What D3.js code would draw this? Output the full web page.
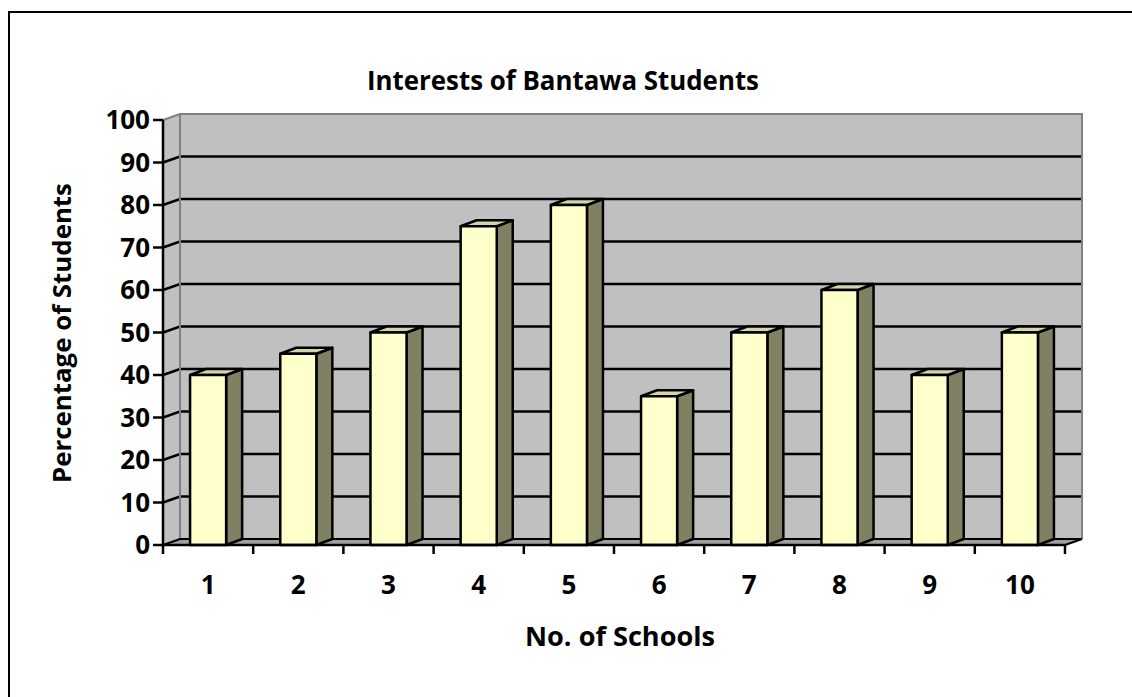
<!DOCTYPE html>
<html>
<head>
<meta charset="utf-8">
<script src="https://cdn.jsdelivr.net/npm/d3@7"></script>
<style>
  html, body { margin: 0; padding: 0; background: #fff; }
  svg { display: block; }
  text { font-family: "Open Sans", Lato, sans-serif; font-weight: bold; fill: #000; }
</style>
</head>
<body>
<svg id="chart" width="1132" height="697"></svg>
<script>
// School numbers and the share of interested students at each
const categories = ["1", "2", "3", "4", "5", "6", "7", "8", "9", "10"];
const values = [40, 45, 50, 75, 80, 35, 50, 60, 40, 50];
const yTicks = [0, 10, 20, 30, 40, 50, 60, 70, 80, 90, 100];

const titleText = "Interests of Bantawa Students";
const xTitle = "No. of Schools";
const yTitle = "Percentage of Students";

const svg = d3.select("#chart");

// Plot frame (front plane) and 3D depth offsets
const plotL = 163, plotR = 1065, plotT = 120, plotB = 545;
const wallDx = 17, wallDy = -6;   // back wall offset
const barDx = 16, barDy = -6;     // column depth

const x = d3.scaleBand().domain(categories).range([plotL, plotR])
  .paddingInner(0.6).paddingOuter(0.3);
const y = d3.scaleLinear().domain([0, 100]).range([plotB, plotT]);

// Shrink or grow a label's font so it spans the given width
function fitWidth(sel, width) {
  const node = sel.node();
  const fs = parseFloat(sel.attr("font-size"));
  const w = node.getComputedTextLength();
  if (w > 0) sel.attr("font-size", (fs * width / w).toFixed(2));
  return sel;
}

// Outer chart border
svg.append("rect").attr("x", 9).attr("y", 12).attr("width", 1140).attr("height", 700)
  .attr("fill", "#fff").attr("stroke", "#000").attr("stroke-width", 2);

const line = d3.line();

// Back wall
svg.append("path")
  .attr("d", line([[plotL + wallDx, y(100) + wallDy], [plotR + wallDx, y(100) + wallDy],
                   [plotR + wallDx, y(0) + wallDy], [plotL + wallDx, y(0) + wallDy]]) + "Z")
  .attr("fill", "#c0c0c0");
// Side wall
svg.append("path")
  .attr("d", line([[plotL, y(0)], [plotL, y(100)], [plotL + wallDx, y(100) + wallDy],
                   [plotL + wallDx, y(0) + wallDy]]) + "Z")
  .attr("fill", "#c0c0c0");
// Floor
svg.append("path")
  .attr("d", line([[plotL, y(0)], [plotR, y(0)], [plotR + wallDx, y(0) + wallDy],
                   [plotL + wallDx, y(0) + wallDy]]) + "Z")
  .attr("fill", "#a0a0a0");

// Gridlines across back and side walls
const grid = svg.append("g").attr("stroke", "#000").attr("stroke-width", 2.5).attr("fill", "none");
yTicks.filter(t => t > 0 && t < 100).forEach(t => {
  grid.append("path").attr("d", line([[plotL, y(t)], [plotL + wallDx, y(t) + wallDy],
                                      [plotR + wallDx, y(t) + wallDy]]));
});

// Wall edges
const edges = svg.append("g").attr("stroke", "#808080").attr("stroke-width", 2).attr("fill", "none");
edges.append("path").attr("d", line([[plotL, y(100)], [plotL + wallDx, y(100) + wallDy],
                                     [plotR + wallDx, y(100) + wallDy], [plotR + wallDx, y(0) + wallDy]]));
edges.append("path").attr("d", line([[plotL + wallDx, y(100) + wallDy], [plotL + wallDx, y(0) + wallDy]]));
svg.append("path").attr("d", line([[plotL, y(0)], [plotL + wallDx, y(0) + wallDy],
                                   [plotR + wallDx, y(0) + wallDy], [plotR, y(0)]]))
  .attr("stroke", "#000").attr("stroke-width", 2).attr("fill", "none");

// Columns
const bars = svg.append("g").selectAll("g").data(categories).join("g")
  .attr("stroke", "#000").attr("stroke-width", 2.5).attr("stroke-linejoin", "round");
bars.each(function (c, i) {
  const g = d3.select(this);
  const x0 = x(c), x1 = x(c) + x.bandwidth();
  const yv = y(values[i]), y0 = y(0);
  g.append("path").attr("fill", "#808062")
    .attr("d", line([[x1, y0], [x1, yv], [x1 + barDx, yv + barDy], [x1 + barDx, y0 + barDy]]) + "Z");
  g.append("path").attr("fill", "#d4d4a8")
    .attr("d", line([[x0, yv], [x0 + barDx, yv + barDy], [x1 + barDx, yv + barDy], [x1, yv]]) + "Z");
  g.append("rect").attr("fill", "#ffffcc")
    .attr("x", x0).attr("y", yv).attr("width", x.bandwidth()).attr("height", y0 - yv);
});

// Value axis
const yAxis = svg.append("g").attr("stroke", "#000").attr("stroke-width", 2.5);
yAxis.append("line").attr("x1", plotL).attr("x2", plotL).attr("y1", y(100)).attr("y2", y(0));
yTicks.forEach(t => {
  yAxis.append("line").attr("x1", plotL - 10).attr("x2", plotL).attr("y1", y(t)).attr("y2", y(t));
});
svg.append("g").selectAll("text").data(yTicks).join("text")
  .attr("x", 150).attr("y", d => y(d)).attr("dy", "0.36em")
  .attr("text-anchor", "end").attr("font-size", 26).text(d => d);

// Category axis
const xAxis = svg.append("g").attr("stroke", "#000").attr("stroke-width", 2.5);
xAxis.append("line").attr("x1", plotL).attr("x2", plotR).attr("y1", y(0)).attr("y2", y(0));
d3.range(categories.length + 1).forEach(k => {
  const xt = plotL + k * x.step();
  xAxis.append("line").attr("x1", xt).attr("x2", xt).attr("y1", y(0)).attr("y2", y(0) + 9);
});
svg.append("g").selectAll("text").data(categories).join("text")
  .attr("x", d => x(d) + x.bandwidth() / 2).attr("y", 594)
  .attr("text-anchor", "middle").attr("font-size", 26).text(d => d);

// Titles
fitWidth(svg.append("text").attr("x", 563).attr("y", 90).attr("text-anchor", "middle")
  .attr("font-size", 24).text(titleText), 392);
fitWidth(svg.append("text").attr("x", 620).attr("y", 646).attr("text-anchor", "middle")
  .attr("font-size", 22).text(xTitle), 190);
fitWidth(svg.append("text").attr("transform", "translate(71,333) rotate(-90)")
  .attr("text-anchor", "middle").attr("font-size", 22).text(yTitle), 300);
</script>
</body>
</html>
